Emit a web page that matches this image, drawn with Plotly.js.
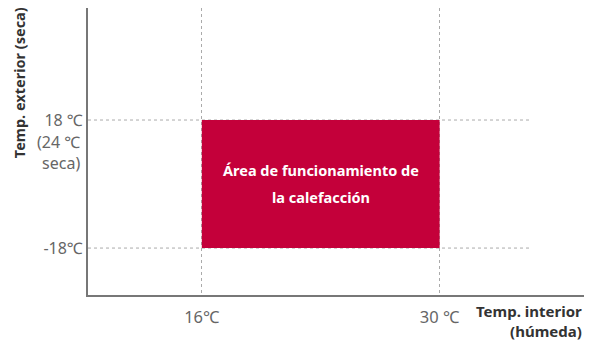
<!DOCTYPE html>
<html><head><meta charset="utf-8">
<script src="https://cdn.plot.ly/plotly-3.0.1.min.js"></script>
<style>body{margin:0;background:#fff}#chart{width:591px;height:347px}</style>
</head><body><div id="chart"></div>
<script>
// Data
const indoorRange = [16, 30];        // Temp. interior (húmeda), °C
const outdoorRange = [-18, 18];      // Temp. exterior (seca), °C
const xTickVals = [16, 30];
const xTickText = ['16℃', '30 ℃'];
const yTickVals = [-18, 18];
const yTickText = ['-18℃', '18 ℃'];
const yExtraLabel = '(24 ℃<br>seca)';
const areaLabelLines = ['Área de funcionamiento de', 'la calefacción'];
const xTitle = 'Temp. interior<br>(húmeda)';
const yTitle = 'Temp. exterior (seca)';

const FONT = '"Noto Sans", "Open Sans", sans-serif';
const areaColor = '#c4003a';

const rectTrace = {
  type: 'scatter', mode: 'lines',
  x: [indoorRange[0], indoorRange[1], indoorRange[1], indoorRange[0], indoorRange[0]],
  y: [outdoorRange[0], outdoorRange[0], outdoorRange[1], outdoorRange[1], outdoorRange[0]],
  fill: 'toself', fillcolor: areaColor, line: {width: 0, color: areaColor},
  hoverinfo: 'skip', showlegend: false
};

const shapes = yTickVals.map(v => ({
  type: 'line', xref: 'paper', yref: 'y', x0: 0, x1: 0.892, y0: v, y1: v,
  line: {color: '#aaaaaa', width: 1, dash: 'dot'}, layer: 'below'
}));

const cx = (indoorRange[0] + indoorRange[1]) / 2;
const cy = (outdoorRange[0] + outdoorRange[1]) / 2;
const annotations = [
  {x: cx, y: cy, xref: 'x', yref: 'y', yshift: 14, text: '<b>' + areaLabelLines[0] + '</b>',
   showarrow: false, font: {family: FONT, size: 14.5, color: '#ffffff'}},
  {x: cx, y: cy, xref: 'x', yref: 'y', yshift: -13, text: '<b>' + areaLabelLines[1] + '</b>',
   showarrow: false, font: {family: FONT, size: 14.5, color: '#ffffff'}},
  {x: -0.012, y: outdoorRange[1], xref: 'paper', yref: 'y', yshift: -9,
   text: yExtraLabel, showarrow: false, xanchor: 'right', yanchor: 'top', align: 'right',
   font: {family: FONT, size: 16, color: '#666666'}},
  {x: 1, y: -0.015, xref: 'paper', yref: 'paper', text: '<b>' + xTitle + '</b>',
   showarrow: false, xanchor: 'right', yanchor: 'top', align: 'right',
   font: {family: FONT, size: 15, color: '#333333'}},
  {x: -0.14, y: 1.01, xref: 'paper', yref: 'paper', text: '<b>' + yTitle + '</b>',
   showarrow: false, textangle: -90, xanchor: 'center', yanchor: 'top',
   font: {family: FONT, size: 14.5, color: '#333333'}}
];

const layout = {
  width: 591, height: 347,
  margin: {l: 88, r: 7, t: 8, b: 52},
  paper_bgcolor: '#fff', plot_bgcolor: '#fff',
  showlegend: false,
  xaxis: {
    range: [9.3, 38.5], tickvals: xTickVals, ticktext: xTickText,
    showgrid: true, gridcolor: '#aaaaaa', griddash: 'dot', gridwidth: 1,
    zeroline: false, showline: true, linecolor: '#777777', linewidth: 2,
    ticks: '', ticklabelstandoff: 6, tickfont: {family: FONT, size: 16.5, color: '#666666'},
    fixedrange: true
  },
  yaxis: {
    range: [-31.2, 49.5], tickvals: yTickVals, ticktext: yTickText,
    showgrid: false, zeroline: false, showline: true, linecolor: '#777777', linewidth: 2,
    ticks: '', tickfont: {family: FONT, size: 16, color: '#666666'},
    fixedrange: true
  },
  shapes: shapes,
  annotations: annotations
};

Plotly.newPlot('chart', [rectTrace], layout, {displayModeBar: false, staticPlot: true});
</script></body></html>
